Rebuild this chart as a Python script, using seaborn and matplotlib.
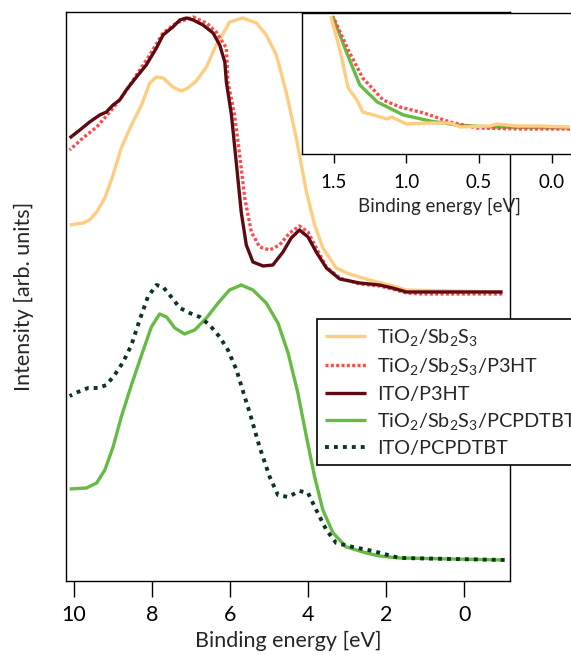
import matplotlib
matplotlib.use("Agg")
import matplotlib.pyplot as plt
import seaborn as sns
import pandas as pd

# ---------------- data (binding energy [eV], intensity [arb. units]) ----------------
tio2_E = [10.10, 9.76, 9.59, 9.41, 9.20, 8.99, 8.78, 8.52, 8.26, 8.05, 7.88, 7.71, 7.46,
          7.24, 7.07, 6.86, 6.60, 6.35, 6.09, 6.01, 5.67, 5.32, 5.07, 4.81, 4.56, 4.30,
          4.04, 3.83, 3.62, 3.28, 2.94, 2.43, 1.91, 1.49, -0.97]
tio2_I = [3.55, 3.57, 3.60, 3.68, 3.82, 4.05, 4.32, 4.55, 4.75, 4.97, 5.03, 5.02, 4.93,
          4.89, 4.92, 4.99, 5.13, 5.35, 5.52, 5.58, 5.62, 5.57, 5.45, 5.25, 4.88, 4.42,
          3.88, 3.55, 3.32, 3.12, 3.06, 3.00, 2.95, 2.90, 2.88]

p3ht_E = [10.10, 9.76, 9.41, 9.07, 8.73, 8.39, 8.05, 7.71, 7.37, 6.94, 6.60, 6.35, 6.09,
          6.05, 5.88, 5.75, 5.62, 5.45, 5.24, 4.98, 4.73, 4.47, 4.22, 4.00, 3.79, 3.53,
          3.19, 2.68, 2.17, 1.84, 1.48, 1.07, -0.97]
p3ht_I = [4.30, 4.42, 4.53, 4.68, 4.85, 5.05, 5.25, 5.47, 5.57, 5.63, 5.57, 5.48, 5.32,
          4.98, 4.65, 4.25, 3.82, 3.48, 3.33, 3.30, 3.35, 3.47, 3.54, 3.48, 3.32, 3.13,
          3.02, 2.96, 2.94, 2.91, 2.87, 2.86, 2.86]

ito_p3ht_E = [10.10, 9.84, 9.59, 9.33, 9.16, 8.99, 8.82, 8.65, 8.39, 8.14, 7.88, 7.71,
              7.46, 7.28, 7.11, 6.94, 6.69, 6.43, 6.26, 6.13, 6.09, 5.96, 5.83, 5.71,
              5.58, 5.41, 5.15, 4.90, 4.64, 4.43, 4.22, 4.00, 3.79, 3.53, 3.19, 2.68,
              2.17, 1.84, 1.48, 1.07, -0.98]
ito_p3ht_I = [4.42, 4.50, 4.58, 4.65, 4.68, 4.75, 4.80, 4.90, 5.03, 5.15, 5.32, 5.45,
              5.53, 5.60, 5.62, 5.60, 5.55, 5.47, 5.35, 5.18, 4.98, 4.65, 4.15, 3.68,
              3.35, 3.18, 3.14, 3.15, 3.28, 3.42, 3.50, 3.43, 3.28, 3.12, 3.01, 2.97,
              2.95, 2.92, 2.88, 2.88, 2.88]

pcp_E = [10.10, 9.67, 9.41, 9.20, 8.99, 8.78, 8.52, 8.26, 8.01, 7.80, 7.62, 7.41, 7.16,
         6.90, 6.60, 6.30, 6.01, 5.71, 5.41, 5.07, 4.77, 4.51, 4.26, 4.04, 3.83, 3.62,
         3.36, 3.02, 2.51, 2.17, 1.66, -1.03]
pcp_I = [0.91, 0.92, 0.97, 1.10, 1.33, 1.63, 1.95, 2.25, 2.53, 2.66, 2.63, 2.52, 2.46,
         2.50, 2.62, 2.77, 2.90, 2.95, 2.90, 2.77, 2.57, 2.27, 1.87, 1.43, 1.03, 0.70,
         0.47, 0.33, 0.27, 0.24, 0.22, 0.20]

ito_pcp_E = [10.10, 9.89, 9.63, 9.37, 9.16, 8.95, 8.73, 8.52, 8.31, 8.10, 7.88, 7.71,
             7.50, 7.28, 7.03, 6.77, 6.52, 6.26, 6.05, 5.83, 5.62, 5.49, 5.24, 4.98,
             4.77, 4.51, 4.22, 4.00, 3.79, 3.53, 3.28, 2.85, 2.34, 1.66, -1.03]
ito_pcp_I = [1.84, 1.88, 1.92, 1.92, 1.95, 2.05, 2.18, 2.35, 2.60, 2.83, 2.95, 2.93,
             2.83, 2.72, 2.67, 2.63, 2.55, 2.43, 2.30, 2.10, 1.83, 1.67, 1.33, 1.03,
             0.85, 0.83, 0.89, 0.87, 0.70, 0.50, 0.37, 0.33, 0.29, 0.22, 0.20]

# inset (valence band edge)
in_tio2_E = [1.52, 1.457, 1.40, 1.34, 1.30, 1.20, 1.135, 1.10, 1.00, 0.837, 0.70, 0.63,
             0.424, 0.378, 0.24, 0.08, -0.126]
in_tio2_I = [1.38, 1.04, 0.66, 0.54, 0.42, 0.38, 0.35, 0.37, 0.30, 0.31, 0.31, 0.27,
             0.28, 0.30, 0.28, 0.28, 0.27]
in_pcp_E = [1.507, 1.41, 1.32, 1.20, 1.02, 0.837, 0.653, 0.424, -0.126]
in_pcp_I = [1.38, 1.01, 0.69, 0.52, 0.39, 0.33, 0.29, 0.27, 0.26]
in_p3ht_E = [1.503, 1.40, 1.30, 1.16, 1.044, 0.88, 0.70, 0.516, 0.195, -0.126]
in_p3ht_I = [1.37, 1.04, 0.76, 0.54, 0.47, 0.41, 0.32, 0.26, 0.25, 0.25]

labels = ["TiO$_2$/Sb$_2$S$_3$", "TiO$_2$/Sb$_2$S$_3$/P3HT", "ITO/P3HT",
          "TiO$_2$/Sb$_2$S$_3$/PCPDTBT", "ITO/PCPDTBT"]
main_ticks = [10, 8, 6, 4, 2, 0]
inset_ticks = [1.5, 1.0, 0.5, 0.0]
inset_ticklabels = ["1.5", "1.0", "0.5", "0.0"]

# ---------------- style ----------------
sns.set_theme(style="white")
plt.rcParams["font.family"] = ["Lato", "DejaVu Sans"]
plt.rcParams["mathtext.default"] = "regular"
plt.rcParams["axes.edgecolor"] = "black"
plt.rcParams["axes.linewidth"] = 1.0

c_tio2 = "#FFCC80"
c_p3ht = "#FF4A4A"
c_ito_p3ht = "#5E0A12"
c_pcp = "#66BB44"
c_ito_pcp = "#0C3522"

fig = plt.figure(figsize=(5.71, 6.55), dpi=100)
ax = fig.add_axes([0.1152, 0.1130, 0.7787, 0.8687])

def draw(a, E, I, color, ls, lw, label=None):
    df = pd.DataFrame({"E": E, "I": I})
    sns.lineplot(data=df, x="E", y="I", ax=a, color=color, lw=lw, label=label,
                 estimator=None, sort=True, legend=False)
    line = a.get_lines()[-1]
    line.set_linestyle(ls)
    line.set_solid_capstyle("butt")
    line.set_solid_joinstyle("round")
    line.set_dash_capstyle("butt")
    return line

h1 = draw(ax, tio2_E, tio2_I, c_tio2, "-", 2.4, labels[0])
h2 = draw(ax, p3ht_E, p3ht_I, c_p3ht, (0, (0.9, 0.7)), 2.4, labels[1])
h3 = draw(ax, ito_p3ht_E, ito_p3ht_I, c_ito_p3ht, "-", 2.4, labels[2])
h4 = draw(ax, pcp_E, pcp_I, c_pcp, "-", 2.4, labels[3])
h5 = draw(ax, ito_pcp_E, ito_pcp_I, c_ito_pcp, (0, (1.0, 1.3)), 2.8, labels[4])

ax.set_xlim(10.2, -1.18)
ax.set_ylim(-0.01, 5.68)
ax.set_xticks(main_ticks)
ax.set_xticklabels([str(t) for t in main_ticks])
ax.set_yticks([])
ax.tick_params(axis="x", which="both", bottom=True, direction="out", length=11.5,
               width=1.0, pad=5.5, labelsize=15.5, colors="black")
ax.set_xlabel("Binding energy [eV]", fontsize=15.5)
ax.set_ylabel("Intensity [arb. units]", fontsize=15.5)
ax.xaxis.set_label_coords(0.5, -0.088)
ax.yaxis.set_label_coords(-0.072, 0.50)
for s in ax.spines.values():
    s.set_color("black")

leg = ax.legend(handles=[h1, h2, h3, h4, h5], labels=labels, loc="upper left",
                bbox_to_anchor=(0.5546, 0.513), bbox_transform=fig.transFigure,
                borderaxespad=0, fontsize=14.3, frameon=True, fancybox=False,
                framealpha=1, edgecolor="black", handlelength=2.1,
                handletextpad=0.55, labelspacing=0.42, borderpad=0.4)
leg.get_frame().set_linewidth(1.2)

# ---------------- inset ----------------
axi = fig.add_axes([0.5284, 0.7649, 0.481, 0.2157])
axi.set_facecolor("white")
draw(axi, in_pcp_E, in_pcp_I, c_pcp, "-", 2.4)
draw(axi, in_p3ht_E, in_p3ht_I, c_p3ht, (0, (0.9, 0.7)), 2.4)
draw(axi, in_tio2_E, in_tio2_I, c_tio2, "-", 2.4)
axi.set_xlim(1.72, -0.17)
axi.set_ylim(0, 1.413)
axi.set_xticks(inset_ticks)
axi.set_xticklabels(inset_ticklabels)
axi.set_yticks([])
axi.set_ylabel("")
axi.tick_params(axis="x", bottom=True, direction="out", length=6.5, width=1.0,
                pad=8, labelsize=13.5, colors="black")
axi.set_xlabel("Binding energy [eV]", fontsize=13.5)
axi.xaxis.set_label_coords(0.5, -0.31)
for s in axi.spines.values():
    s.set_color("black")
    s.set_linewidth(1.0)

fig.savefig("out.png", dpi=100)
